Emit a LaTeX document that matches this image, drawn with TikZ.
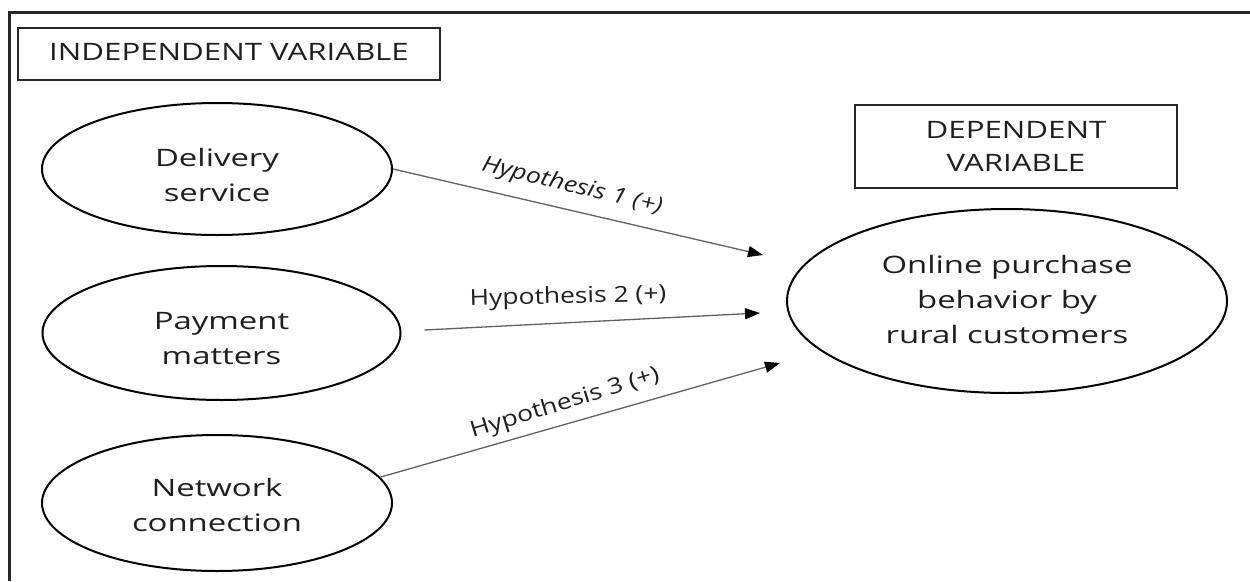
\documentclass[tikz,border=0pt]{standalone}
\usepackage{fontspec}
\setmainfont{Open Sans}
\usepackage{graphicx}
\usetikzlibrary{shapes.geometric,arrows.meta}
\newcommand\stretchx[2]{\scalebox{#1}[1]{\begin{tabular}{@{}c@{}}#2\end{tabular}}}
\newcommand\lowered[2]{\raisebox{-#1}[\height][\depth]{#2}}
\begin{document}
\begin{tikzpicture}[x=1pt,y=-1pt,
  frame/.style={line width=3pt, draw=black!85},
  varbox/.style={draw=black!85, line width=2pt, rectangle, inner sep=0pt,
    text=black!88, font=\fontsize{24}{33}\selectfont},
  construct/.style={draw=black, line width=2pt, ellipse, inner sep=0pt,
    text=black!88, font=\fontsize{24}{35}\selectfont},
  hyparrow/.style={draw=black!62, line width=1.3pt,
    -{Triangle[length=15pt,width=11pt,color=black]}},
  hyplabel/.style={text=black!88, font=\fontsize{22}{26}\selectfont, inner sep=0pt}
]
\useasboundingbox (0,0) rectangle (1250,581);
\fill[white] (0,0) rectangle (1250,581);
% outer frame (top and left only)
\draw[frame] (9,581) -- (9,12) -- (1250,12);

% variable boxes
\node[varbox, minimum width=422pt, minimum height=52pt] (iv) at (229,54)
  {\stretchx{1.3}{INDEPENDENT VARIABLE}};
\node[varbox, minimum width=322pt, minimum height=83pt] (dv) at (1016,146.5)
  {\lowered{2pt}{\stretchx{1.3}{DEPENDENT\\VARIABLE}}};

% constructs
\node[construct, minimum width=350pt, minimum height=132pt] (del) at (217,169)
  {\lowered{8pt}{\stretchx{1.37}{Delivery\\service}}};
\node[construct, minimum width=358pt, minimum height=134pt] (pay) at (221.5,333)
  {\lowered{7pt}{\stretchx{1.37}{Payment\\matters}}};
\node[construct, minimum width=350pt, minimum height=136pt] (net) at (217,503)
  {\lowered{4pt}{\stretchx{1.37}{Network\\connection}}};
\node[construct, minimum width=440pt, minimum height=184pt] (onl) at (1007,301)
  {\stretchx{1.37}{Online purchase\\behavior by\\rural customers}};

% arrow end points
\coordinate (h1e) at (763,255);
\coordinate (h2e) at (760,313);
\coordinate (h3e) at (780,363);

\draw[hyparrow] (del.east) -- (h1e);
\draw[hyparrow] ([xshift=23pt,yshift=3pt]pay.east) -- (h2e);
\draw[hyparrow] (net.9) -- (h3e);

% labels
\node[hyplabel, rotate=-13.5] (l1) at (572,187)
  {\stretchx{1.2}{\itshape Hypothesis 1 (+)}};
\node[hyplabel, rotate=1.5] (l2) at (568,298)
  {\stretchx{1.2}{Hypothesis 2 (+)}};
\node[hyplabel, rotate=17] (l3) at (565,404)
  {\stretchx{1.2}{Hypothesis 3 (+)}};
\end{tikzpicture}
\end{document}
